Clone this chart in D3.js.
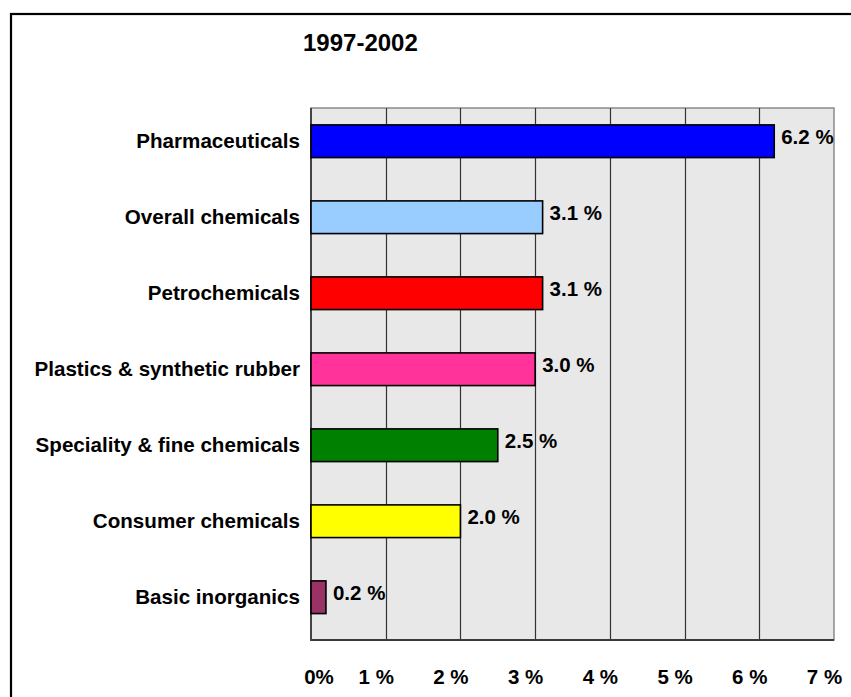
<!DOCTYPE html>
<html>
<head>
<meta charset="utf-8">
<script src="https://cdn.jsdelivr.net/npm/d3@7"></script>
<style>
  body { margin: 0; background: #fff; }
  svg text { font-family: Arial, "Liberation Sans", sans-serif; font-weight: bold; fill: #000; }
</style>
</head>
<body>
<svg id="chart" width="851" height="697"></svg>
<script>
// chart data
var title = "1997-2002";
var categories = ["Pharmaceuticals", "Overall chemicals", "Petrochemicals",
  "Plastics & synthetic rubber", "Speciality & fine chemicals",
  "Consumer chemicals", "Basic inorganics"];
var growth = [6.2, 3.1, 3.1, 3.0, 2.5, 2.0, 0.2];
var barColors = ["#0000ff", "#99ccff", "#ff0000", "#ff3399", "#008000", "#ffff00", "#993366"];
var tickValues = [0, 1, 2, 3, 4, 5, 6, 7];
var tickLabels = ["0%", "1 %", "2 %", "3 %", "4 %", "5 %", "6 %", "7 %"];

var svg = d3.select("#chart");

// plot area
var plot = {left: 311, top: 108, right: 834, bottom: 640};

//outer frame, runs off the right and bottom of the page
svg.append("rect")
  .attr("x", 11).attr("y", 14)
  .attr("width", 900).attr("height", 750)
  .attr("fill", "none")
  .attr("stroke", "#000")
  .attr("stroke-width", 2.2);

var x = d3.scaleLinear()
  .domain([0, 7])
  .range([plot.left, plot.right]);

var y = d3.scaleBand()
  .domain(categories)
  .range([plot.top, plot.bottom])
  .paddingInner(0.57)
  .paddingOuter(0.285)
  .align(0.39);

//gray background
svg.append("rect")
  .attr("x", plot.left).attr("y", plot.top)
  .attr("width", plot.right - plot.left)
  .attr("height", plot.bottom - plot.top)
  .attr("fill", "#e8e8e8")
  .attr("stroke", "#8a8a8a")
  .attr("stroke-width", 1.5);

//vertical gridlines
svg.append("g")
  .selectAll("line")
  .data(tickValues.slice(1, -1))
  .enter().append("line")
  .attr("x1", function (d) { return Math.round(x(d)) + 0.5; })
  .attr("x2", function (d) { return Math.round(x(d)) + 0.5; })
  .attr("y1", plot.top)
  .attr("y2", plot.bottom)
  .attr("stroke", "#333")
  .attr("stroke-width", 1.2);

//darker left and bottom edges
svg.append("path")
  .attr("d", "M" + plot.left + "," + plot.top + "V" + plot.bottom + "H" + plot.right)
  .attr("fill", "none")
  .attr("stroke", "#3a3a3a")
  .attr("stroke-width", 1.8);

//bars
svg.append("g")
  .selectAll("rect")
  .data(growth)
  .enter().append("rect")
  .attr("x", x(0))
  .attr("y", function (d, i) { return y(categories[i]); })
  .attr("width", function (d) { return x(d) - x(0); })
  .attr("height", y.bandwidth())
  .attr("fill", function (d, i) { return barColors[i]; })
  .attr("stroke", "#000")
  .attr("stroke-width", 1.6);

//value labels
svg.append("g")
  .selectAll("text")
  .data(growth)
  .enter().append("text")
  .attr("x", function (d) { return x(d) + 7; })
  .attr("y", function (d, i) { return y(categories[i]) + y.bandwidth() / 2 + 3; })
  .style("font-size", "20.5px")
  .text(function (d) { return d.toFixed(1) + " %"; });

//category labels
svg.append("g")
  .selectAll("text")
  .data(categories)
  .enter().append("text")
  .attr("x", 300)
  .attr("y", function (d) { return y(d) + y.bandwidth() / 2 + 7; })
  .attr("text-anchor", "end")
  .style("font-size", "20.6px")
  .text(function (d) { return d; });

//x tick labels
svg.append("g")
  .selectAll("text")
  .data(tickValues)
  .enter().append("text")
  .attr("x", function (d, i) { return x(d) + (i === 0 ? 8 : -9.5); })
  .attr("y", 684)
  .attr("text-anchor", "middle")
  .style("font-size", "20.5px")
  .text(function (d, i) { return tickLabels[i]; });

//title
svg.append("text")
  .attr("x", 303)
  .attr("y", 51)
  .style("font-size", "24px")
  .text(title);
</script>
</body>
</html>
